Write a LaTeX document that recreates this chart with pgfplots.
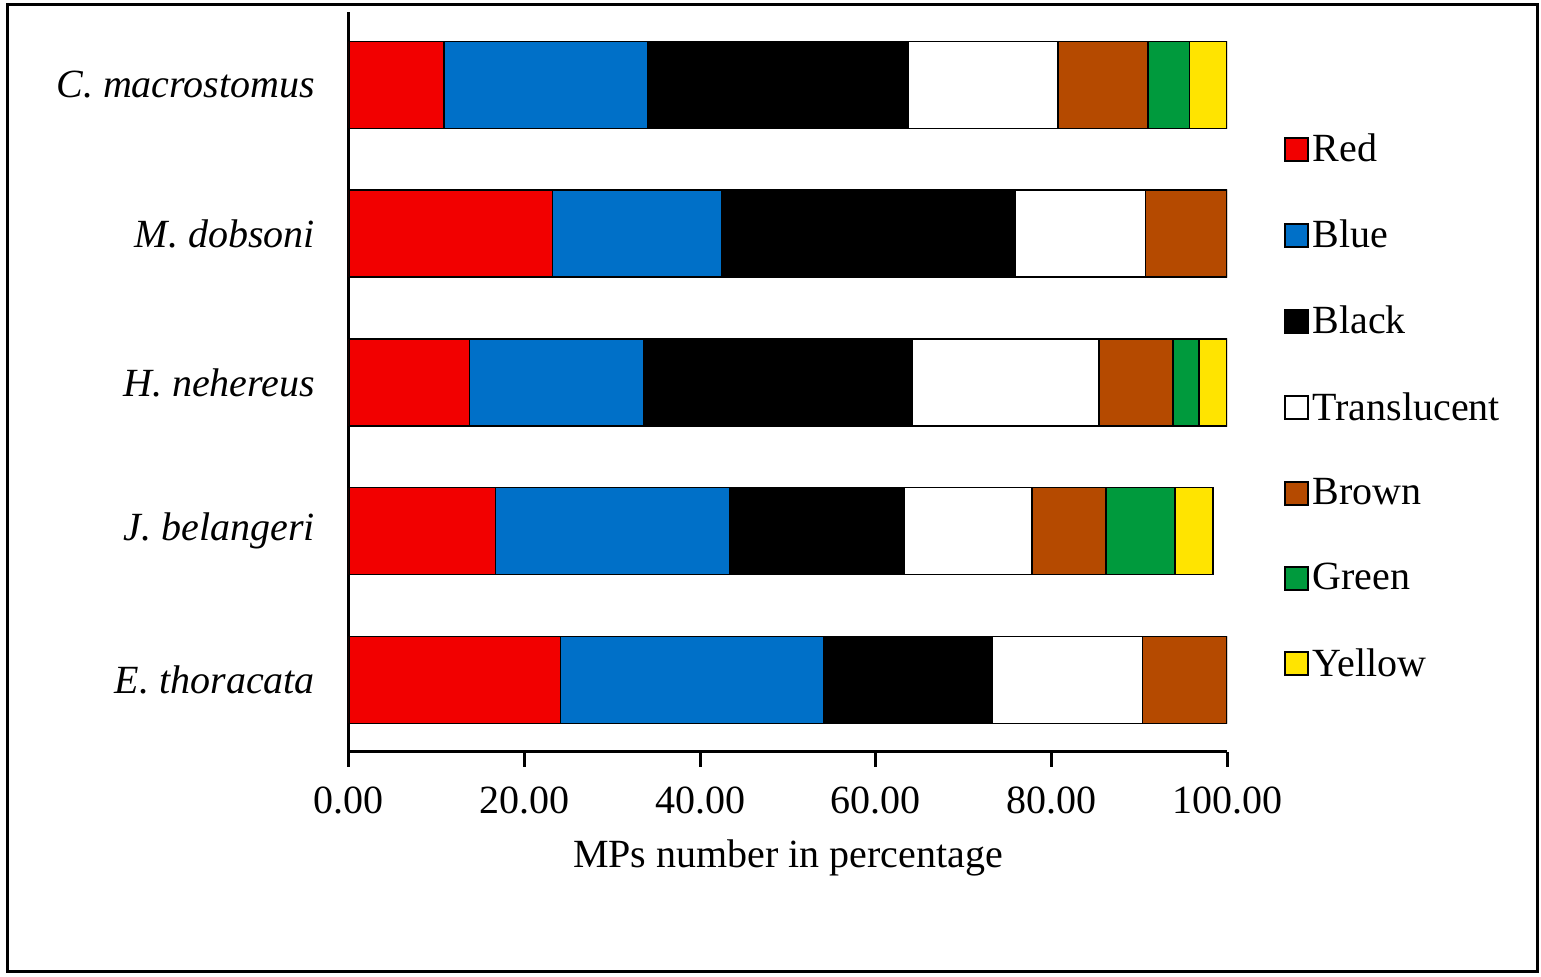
\documentclass[border=0pt]{standalone}
\usepackage{fontspec}
\setmainfont{Liberation Serif}
\usepackage{pgfplots}
\pgfplotsset{compat=1.18}
\definecolor{cRed}{HTML}{F20000}
\definecolor{cBlue}{HTML}{0070C8}
\definecolor{cBrown}{HTML}{B54A00}
\definecolor{cGreen}{HTML}{009A3D}
\definecolor{cYellow}{HTML}{FFE400}
\begin{document}
\begin{tikzpicture}
\path (-174.5pt,-112.5pt) rectangle (596pt,376pt);
\draw[line width=1.5pt] (-170.5pt,-110pt) rectangle (594pt,373.5pt);
\begin{axis}[
  at={(0pt,0pt)}, anchor=south west,
  scale only axis,
  width=439pt, height=370pt,
  xbar stacked,
  bar width=43.5pt,
  xmin=0, xmax=100,
  ymin=-0.484, ymax=4.49,
  axis x line*=bottom,
  axis y line*=left,
  axis line style={line width=1.5pt},
  x axis line style={-}, y axis line style={-},
  xtick={0,20,40,60,80,100},
  xticklabels={0.00,20.00,40.00,60.00,80.00,100.00},
  ytick={0,1,2,3,4},
  yticklabels={E. thoracata, J. belangeri, H. nehereus, M. dobsoni, C. macrostomus},
  major tick length=7.5pt,
  xtick style={line width=1.5pt, black},
  ytick style={draw=none},
  tick align=outside,
  x tick label style={font=\fontsize{20}{24}\selectfont, yshift=-6.5pt},
  y tick label style={font=\fontsize{20}{24}\selectfont\itshape, xshift=-6pt},
  xlabel={MPs number in percentage},
  xlabel style={font=\fontsize{20}{24}\selectfont, at={(axis description cs:0.5,0)}, anchor=center, yshift=-53pt},
  legend style={at={(1.064,0.467)}, anchor=west, draw=none, fill=none,
    font=\fontsize{20}{24}\selectfont, row sep=23.75pt, inner sep=0pt},
  legend cell align=left,
  legend image code/.code={\draw[#1,draw=black,line width=1pt] (0pt,-5.75pt) rectangle (11.5pt,5.75pt);},
]
\addplot[fill=cRed, draw=black, line width=0.75pt] coordinates {(24.1,0) (16.7,1) (13.7,2) (23.2,3) (10.8,4)};
\addplot[fill=cBlue, draw=black, line width=0.75pt] coordinates {(30.0,0) (26.7,1) (19.9,2) (19.3,3) (23.25,4)};
\addplot[fill=black, draw=black, line width=0.75pt] coordinates {(19.2,0) (19.8,1) (30.6,2) (33.35,3) (29.6,4)};
\addplot[fill=white, draw=black, line width=0.75pt] coordinates {(17.1,0) (14.6,1) (21.2,2) (14.85,3) (17.1,4)};
\addplot[fill=cBrown, draw=black, line width=0.75pt] coordinates {(9.6,0) (8.4,1) (8.45,2) (9.3,3) (10.25,4)};
\addplot[fill=cGreen, draw=black, line width=0.75pt] coordinates {(0,0) (7.9,1) (2.95,2) (0,3) (4.7,4)};
\addplot[fill=cYellow, draw=black, line width=0.75pt] coordinates {(0,0) (4.3,1) (3.2,2) (0,3) (4.3,4)};
\legend{Red, Blue, Black, Translucent, Brown, Green, Yellow}
\end{axis}
\end{tikzpicture}
\end{document}
